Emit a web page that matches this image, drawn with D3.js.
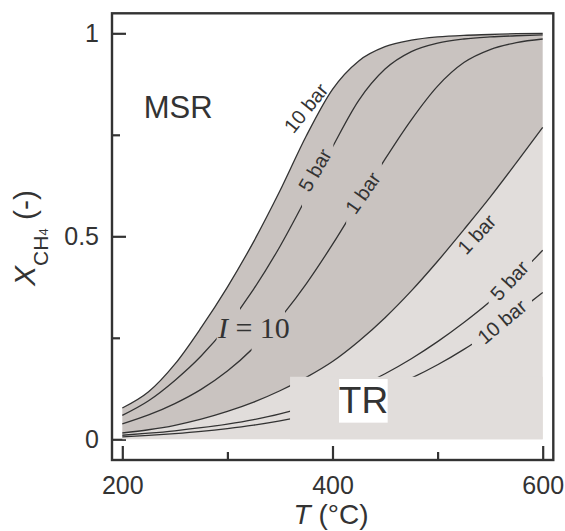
<!DOCTYPE html>
<html><head><meta charset="utf-8">
<script src="https://cdn.jsdelivr.net/npm/d3@7"></script>
<style>body{margin:0;background:#fff}</style>
</head><body><svg id="c" width="565" height="531"></svg>
<script>
// ---- data ----
const temps = [200,225,250,275,300,325,350,375,400,425,450,475,500,525,550,575,600];
const msr10 = [0.077,0.117,0.185,0.275,0.375,0.487,0.612,0.747,0.862,0.932,0.967,0.983,0.991,0.995,0.997,0.999,1.0];
const msr5  = [0.059,0.095,0.145,0.205,0.28,0.37,0.475,0.595,0.72,0.835,0.912,0.955,0.976,0.986,0.991,0.994,0.996];
const msr1  = [0.038,0.060,0.088,0.123,0.168,0.226,0.298,0.383,0.480,0.585,0.690,0.787,0.870,0.928,0.960,0.977,0.986];
const tr1   = [0.0155,0.0235,0.0345,0.0495,0.0685,0.0915,0.1195,0.1525,0.1915,0.2415,0.2995,0.3655,0.4385,0.5165,0.5965,0.6815,0.7685];
const tr5   = [0.010,0.015,0.021,0.0285,0.0375,0.0485,0.0625,0.0805,0.1025,0.1295,0.1615,0.1985,0.2405,0.2875,0.3395,0.3995,0.4655];
const tr10  = [0.006,0.0095,0.014,0.0195,0.0265,0.035,0.0455,0.0585,0.0755,0.0965,0.1215,0.1505,0.1835,0.2215,0.2645,0.3115,0.3615];
const xTicks = [200,400,600], xMinor = [300,500];
const yTicks = [0,0.5,1], yMinor = [0.25,0.75];
const yTickLabels = ["0","0.5","1"];
const xTickLabels = ["200","400","600"];

// ---- layout ----
const svg = d3.select("#c");
const x = d3.scaleLinear().domain([200,600]).range([122.3,542.7]);
const y = d3.scaleLinear().domain([0,1]).range([439.3,33.3]);
const frame = {left:112, top:13.3, right:553.3, bottom:460};
const ink = "#333333", dark = "#c9c3c0", light = "#e1dddb";
const sans = "'Liberation Sans', Arial, Helvetica, sans-serif";
const serif = "'Liberation Serif', 'Times New Roman', serif";

// axes
const gy = svg.append("g").attr("transform",`translate(${frame.left},0)`)
  .call(d3.axisLeft(y).tickValues(yTicks).tickSizeInner(-14).tickSizeOuter(0).tickPadding(13)
        .tickFormat((d,i)=>yTickLabels[i]));
const gy2 = svg.append("g").attr("transform",`translate(${frame.left},0)`)
  .call(d3.axisLeft(y).tickValues(yMinor).tickSizeInner(-8).tickSizeOuter(0).tickFormat(""));
const gx = svg.append("g").attr("transform",`translate(0,${frame.bottom})`)
  .call(d3.axisBottom(x).tickValues(xTicks).tickSizeInner(-14).tickSizeOuter(0).tickPadding(16)
        .tickFormat((d,i)=>xTickLabels[i]));
const gx2 = svg.append("g").attr("transform",`translate(0,${frame.bottom})`)
  .call(d3.axisBottom(x).tickValues(xMinor).tickSizeInner(-8).tickSizeOuter(0).tickFormat(""));
[gy,gy2,gx,gx2].forEach(g=>{
  g.select(".domain").remove();
  g.selectAll("line").attr("stroke",ink).attr("stroke-width",2.2);
  g.selectAll("text").attr("fill",ink).style("font-family",sans).style("font-size","25px");
});
svg.append("rect").attr("x",frame.left).attr("y",frame.top)
  .attr("width",frame.right-frame.left).attr("height",frame.bottom-frame.top)
  .attr("fill","none").attr("stroke",ink).attr("stroke-width",2.4);

// fills
const pts = temps.map((t,i)=>({t, top:msr10[i], b:tr1[i]}));
svg.append("path").datum(pts).attr("fill",dark)
  .attr("d",d3.area().x(d=>x(d.t)).y0(d=>y(d.b)).y1(d=>y(d.top)).curve(d3.curveMonotoneX));
svg.append("path").datum(pts).attr("fill",light)
  .attr("d",d3.area().x(d=>x(d.t)).y0(y(0)).y1(d=>y(d.b)).curve(d3.curveMonotoneX));

// curves (with label gaps)
const curves = [
  {id:"msr10", v:msr10, gaps:[]},
  {id:"msr5",  v:msr5,  gaps:[[289.8,312],[371,400.8]]},
  {id:"msr1",  v:msr1,  gaps:[[323,354.8],[413,447]]},
  {id:"tr1",   v:tr1,   gaps:[]},
  {id:"tr5",   v:tr5,   gaps:[[548.6,589.8]]},
  {id:"tr10",  v:tr10,  gaps:[[532.7,589.8]]}
];
const defs = svg.append("defs");
const line = d3.line().x(d=>x(d[0])).y(d=>y(d[1])).curve(d3.curveMonotoneX);
curves.forEach(c=>{
  const cp = defs.append("clipPath").attr("id","cp-"+c.id);
  let start = 150;
  const segs = [];
  c.gaps.forEach(g=>{segs.push([start,g[0]]); start=g[1];});
  segs.push([start,650]);
  segs.forEach(s=>cp.append("rect").attr("x",x(s[0])).attr("width",x(s[1])-x(s[0])).attr("y",0).attr("height",531));
  svg.append("path").datum(temps.map((t,i)=>[t,c.v[i]]))
    .attr("fill","none").attr("stroke",ink).attr("stroke-width",1.3)
    .attr("clip-path",`url(#cp-${c.id})`).attr("d",line);
});

// covering box and TR label
svg.append("rect").attr("x",x(359.6)).attr("y",y(0.154)).attr("width",x(600)-x(359.6)).attr("height",y(0)-y(0.154)).attr("fill",light);
svg.append("rect").attr("x",x(406.2)).attr("y",y(0.1485)).attr("width",x(452.5)-x(406.2)).attr("height",y(0.041)-y(0.1485)).attr("fill","#fff");
svg.append("text").attr("x",x(429.5)).attr("y",y(0.064)).attr("text-anchor","middle")
  .style("font-family",sans).style("font-size","37px").attr("fill",ink).text("TR");
svg.append("text").attr("x",x(220.4)).attr("y",y(0.791))
  .style("font-family",sans).style("font-size","31px").attr("fill",ink).text("MSR");

// curve labels
const labels = [
  {text:"10 bar", t:374.8, v:0.816, a:-51},
  {text:"5 bar",  t:383.3, v:0.663, a:-60},
  {text:"1 bar",  t:428.8, v:0.607, a:-55},
  {text:"1 bar",  t:537.2, v:0.505, a:-47},
  {text:"5 bar",  t:568.4, v:0.391, a:-47},
  {text:"10 bar", t:561.3, v:0.290, a:-40}
];
labels.forEach(l=>{
  svg.append("text").attr("transform",`translate(${x(l.t)},${y(l.v)}) rotate(${l.a})`)
    .attr("text-anchor","middle").attr("dy","0.35em")
    .style("font-family",sans).style("font-size","20px").attr("fill",ink).text(l.text);
});

// I = 10
const it = svg.append("text").attr("x",x(291)).attr("y",y(0.249))
  .style("font-family",serif).style("font-size","30px").attr("fill",ink);
it.append("tspan").style("font-style","italic").text("I");
it.append("tspan").text(" = 10");

// axis titles
const xt = svg.append("text").attr("x",331).attr("y",524).attr("text-anchor","middle")
  .style("font-family",sans).style("font-size","28px").attr("fill",ink);
xt.append("tspan").style("font-style","italic").text("T");
xt.append("tspan").text(" (°C)");

const yt = svg.append("text").attr("transform","translate(35,238) rotate(-90)").attr("text-anchor","middle")
  .style("font-family",sans).style("font-size","30px").attr("fill",ink);
yt.append("tspan").style("font-style","italic").text("X");
yt.append("tspan").attr("dy",13).style("font-size","21px").text("CH");
yt.append("tspan").attr("dy",0).style("font-size","13px").text("4");
yt.append("tspan").attr("dy",-13).text(" (-)");
</script></body></html>
